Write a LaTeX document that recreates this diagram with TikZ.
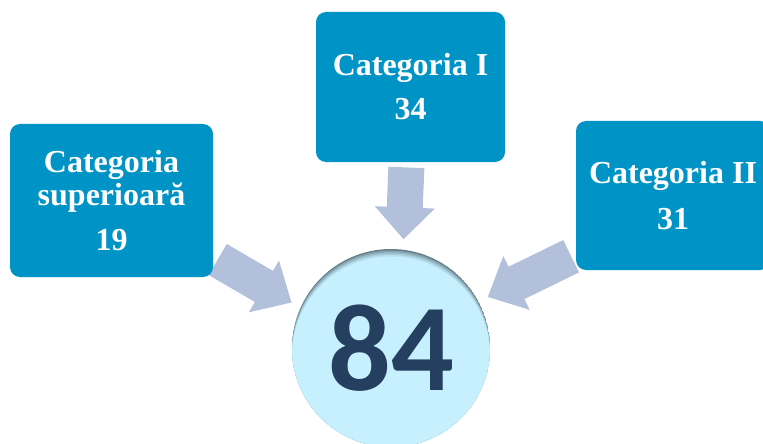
\documentclass[tikz,border=0pt]{standalone}
\usepackage{fontspec}
\setmainfont{Liberation Serif}
\newfontfamily\numfont{Carlito}
\usetikzlibrary{arrows.meta, backgrounds}

\definecolor{boxblue}{HTML}{0093C6}
\definecolor{arrowgray}{HTML}{B3C0DB}
\definecolor{circfill}{HTML}{C6F0FE}
\definecolor{circrim}{HTML}{667F8A}
\definecolor{numblue}{HTML}{243F60}

\begin{document}
\begin{tikzpicture}[x=0.5pt, y=-0.5pt,
		catbox/.style={draw=none, rectangle, rounded corners=5pt, fill=boxblue, text=white, inner sep=0pt, align=center,
			font=\fontsize{16}{16.5}\selectfont\bfseries},
		bigarrow/.style={line width=18pt, arrowgray, -{Triangle[width=29pt, length=16pt]}, shorten <=2.5pt, shorten >=5pt}]
	\useasboundingbox (0, 0) rectangle (763, 443);
	
	\node[catbox, minimum width=101.5pt, minimum height=76.5pt] (sup) at (111.5, 200.5) {Categoria\\superioară\\[6pt]19};
	\node[catbox, minimum width=94.5pt, minimum height=75pt] (cat1) at (410.5, 87) {Categoria I\\[5.5pt]34};
	\node[catbox, minimum width=97pt, minimum height=74.5pt] (cat2) at (673, 195.5) {Categoria II\\[6.5pt]31};
	
	\node[circle, minimum size=99pt, inner sep=0pt] (total) at (391, 348) {};
	% inner shadow of the circle
	\begin{scope}
		\clip (total.center) circle (99);
		\fill[circrim] (total.center) circle (99);
		\foreach \d/\c in {1.5/30, 3/50, 4.5/70, 6/85, 7.5/100} {
			\fill[circfill!\c!circrim] (total.center) ++(0, \d) circle (99);
		}
	\end{scope}
	\node[text=numblue, font=\numfont\bfseries\fontsize{62}{62}\selectfont] (num) at (total.center) {84};
	
	\begin{scope}[on background layer]
		\draw[bigarrow] (sup.-29) -- (total.156);
		\draw[bigarrow] (cat1.-93) -- (total.83);
		\draw[bigarrow] (cat2.211) -- (total.28);
	\end{scope}
\end{tikzpicture}
\end{document}
